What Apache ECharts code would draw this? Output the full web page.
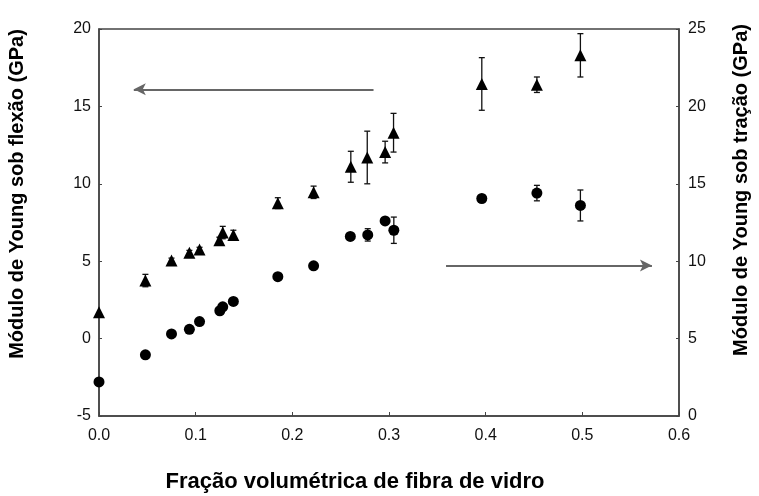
<!DOCTYPE html>
<html><head><meta charset="utf-8">
<script src="https://cdn.jsdelivr.net/npm/echarts@6/dist/echarts.min.js"></script>
<style>html,body{margin:0;padding:0;background:#fff}#c{width:759px;height:496px}</style>
</head><body><div id="c"></div>
<script>
// Flexural modulus (triangles, left axis)
const flexX = [0.0, 0.048, 0.075, 0.0935, 0.104, 0.1245, 0.128, 0.139, 0.185, 0.222, 0.2605, 0.2775, 0.296, 0.3047, 0.396, 0.453, 0.498];
const flexY = [1.7, 3.75, 5.05, 5.55, 5.75, 6.35, 6.85, 6.7, 8.75, 9.45, 11.1, 11.7, 12.05, 13.3, 16.45, 16.4, 18.3];
const flexErr = [0, 0.4, 0.15, 0.15, 0.15, 0.2, 0.4, 0.3, 0.35, 0.4, 1.0, 1.7, 0.7, 1.25, 1.7, 0.5, 1.4];
// Tensile modulus (circles, right axis)
const tenX = [0.0, 0.048, 0.075, 0.0935, 0.104, 0.125, 0.128, 0.139, 0.185, 0.222, 0.26, 0.278, 0.296, 0.305, 0.396, 0.453, 0.498];
const tenY = [2.2, 3.95, 5.3, 5.6, 6.1, 6.8, 7.05, 7.4, 9.0, 9.7, 11.6, 11.7, 12.6, 12.0, 14.05, 14.4, 13.6];
const tenErr = [0, 0, 0, 0.15, 0, 0.1, 0.15, 0.1, 0.1, 0, 0, 0.4, 0, 0.85, 0.15, 0.5, 1.0];
// Arrows (data coords)
const arrowLeft = [[0.284, 16.1], [0.036, 16.1]];
const arrowRight = [[0.359, 9.72], [0.572, 9.72]];
const xTicks = {min: 0, max: 0.6, interval: 0.1};
const yLeftTicks = {min: -5, max: 20, interval: 5};
const yRightTicks = {min: 0, max: 25, interval: 5};

const font = '"Liberation Sans", Arial, sans-serif';
const chart = echarts.init(document.getElementById('c'));

function errData(xs, ys, es) {
  return xs.map((x, i) => [x, ys[i] - es[i], ys[i] + es[i]]);
}
function errRender(params, api) {
  const x = api.value(0);
  const lo = api.coord([x, api.value(1)]);
  const hi = api.coord([x, api.value(2)]);
  if (Math.abs(lo[1] - hi[1]) < 1) return null;
  const w = 3;
  const st = {stroke: '#111', lineWidth: 1.3};
  return {type: 'group', children: [
    {type: 'line', shape: {x1: lo[0], y1: lo[1], x2: hi[0], y2: hi[1]}, style: st},
    {type: 'line', shape: {x1: lo[0] - w, y1: lo[1], x2: lo[0] + w, y2: lo[1]}, style: st},
    {type: 'line', shape: {x1: hi[0] - w, y1: hi[1], x2: hi[0] + w, y2: hi[1]}, style: st}
  ]};
}

const axisLine = {show: true, onZero: false, lineStyle: {color: '#444', width: 1.5}};
const axisLabel = {color: '#111', fontSize: 16, fontFamily: font};

chart.setOption({
  animation: false,
  grid: {left: 99, right: 80, top: 29, bottom: 80, show: true, borderColor: '#444', borderWidth: 1.5},
  xAxis: {type: 'value', min: xTicks.min, max: xTicks.max, interval: xTicks.interval,
    axisLine: axisLine, axisTick: {show: true, inside: true, length: 4, lineStyle: {color: '#444'}},
    axisLabel: Object.assign({margin: 12, formatter: v => v.toFixed(1)}, axisLabel), splitLine: {show: false}},
  yAxis: [
    {type: 'value', min: yLeftTicks.min, max: yLeftTicks.max, interval: yLeftTicks.interval, position: 'left',
      axisLine: axisLine, axisTick: {show: true, inside: true, length: 3, lineStyle: {color: '#444'}},
      axisLabel: Object.assign({margin: 8}, axisLabel), splitLine: {show: false}},
    {type: 'value', min: yRightTicks.min, max: yRightTicks.max, interval: yRightTicks.interval, position: 'right',
      axisLine: axisLine, axisTick: {show: true, inside: true, length: 3, lineStyle: {color: '#444'}},
      axisLabel: Object.assign({margin: 9}, axisLabel), splitLine: {show: false}}
  ],
  graphic: [
    {type: 'text', x: 17, y: 194, rotation: Math.PI / 2,
      style: {text: 'Módulo de Young sob flexão (GPa)', font: 'bold 20px ' + font, fill: '#000', align: 'center', verticalAlign: 'middle', x: 0, y: 0}},
    {type: 'text', x: 741, y: 190, rotation: Math.PI / 2,
      style: {text: 'Módulo de Young sob tração (GPa)', font: 'bold 20px ' + font, fill: '#000', align: 'center', verticalAlign: 'middle', x: 0, y: 0}},
    {type: 'text', x: 355, y: 482,
      style: {text: 'Fração volumétrica de fibra de vidro', font: 'bold 22px ' + font, fill: '#000', align: 'center', verticalAlign: 'middle', x: 0, y: 0}}
  ],
  series: [
    {type: 'custom', yAxisIndex: 0, renderItem: errRender, data: errData(flexX, flexY, flexErr), z: 2},
    {type: 'custom', yAxisIndex: 1, renderItem: errRender, data: errData(tenX, tenY, tenErr), z: 2},
    {type: 'scatter', yAxisIndex: 0, symbol: 'triangle', symbolSize: [12, 12], itemStyle: {color: '#000', opacity: 1},
      data: flexX.map((x, i) => [x, flexY[i]]), z: 3,
      markLine: {silent: true, symbol: ['none', 'arrow'], symbolSize: [9, 12], label: {show: false},
        lineStyle: {color: '#666', width: 2, type: 'solid'},
        data: [[{coord: arrowLeft[0]}, {coord: arrowLeft[1]}]]}},
    {type: 'scatter', yAxisIndex: 1, symbol: 'circle', symbolSize: 11, itemStyle: {color: '#000', opacity: 1},
      data: tenX.map((x, i) => [x, tenY[i]]), z: 3,
      markLine: {silent: true, symbol: ['none', 'arrow'], symbolSize: [9, 12], label: {show: false},
        lineStyle: {color: '#666', width: 2, type: 'solid'},
        data: [[{coord: arrowRight[0]}, {coord: arrowRight[1]}]]}}
  ]
});
</script></body></html>
